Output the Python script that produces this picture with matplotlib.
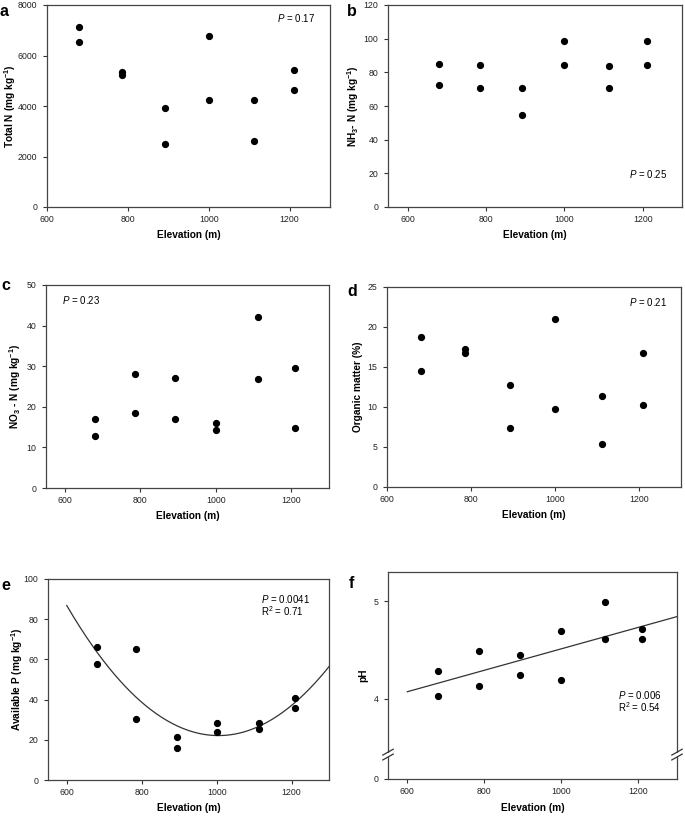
import matplotlib
matplotlib.use("Agg")
import matplotlib.pyplot as plt
import numpy as np

plt.rcParams['font.family'] = ['Liberation Sans', 'DejaVu Sans']
plt.rcParams['mathtext.fontset'] = 'custom'
plt.rcParams['mathtext.rm'] = 'Liberation Sans'
plt.rcParams['mathtext.it'] = 'Liberation Sans:italic'
plt.rcParams['mathtext.bf'] = 'Liberation Sans:bold'

# elevation of each sampling site (two samples per site)
elev = [680, 680, 785, 785, 893, 893, 1000, 1000, 1113, 1113, 1210, 1210]

total_n = [7140, 6520, 5340, 5220, 3940, 2480, 6770, 4240, 4230, 2600, 5440, 4620]
nh3_n = [85.2, 72.5, 84.6, 70.8, 70.6, 54.7, 98.4, 84.6, 84.0, 70.4, 98.4, 84.4]
no3_n = [17.0, 12.9, 28.1, 18.5, 27.2, 17.0, 16.1, 14.2, 42.0, 26.9, 29.5, 14.9]
org_matter = [18.8, 14.5, 17.3, 16.8, 12.75, 7.4, 21.0, 9.8, 11.4, 5.4, 16.8, 10.2]
avail_p = [66.4, 57.5, 65.2, 30.3, 21.4, 16.1, 28.3, 23.7, 28.6, 25.2, 40.6, 35.8]
ph = [4.29, 4.03, 4.49, 4.13, 4.45, 4.25, 4.70, 4.19, 4.99, 4.61, 4.72, 4.61]

fig = plt.figure(figsize=(6.85, 8.16), dpi=100)
W, H = 685.0, 816.0


def make_ax(left, right, top, bottom):
    return fig.add_axes([left / W, 1 - bottom / H, (right - left) / W, (bottom - top) / H])


def style(ax, xlim, ylabel, ylab_x):
    ax.set_xlim(*xlim)
    ax.set_xticks([600, 800, 1000, 1200])
    ax.tick_params(direction='out', length=3, width=0.8, labelsize=6.3, colors='#333333',
                   labelcolor='#222222')
    ax.tick_params(axis='y', pad=4)
    ax.tick_params(axis='x', pad=3)
    for s in ax.spines.values():
        s.set_linewidth(0.9)
        s.set_color('#444444')
    ax.set_xlabel('Elevation (m)', fontsize=7.3, fontweight='bold', va='center')
    ax.set_ylabel(ylabel, fontsize=7.3, fontweight='bold', va='center')
    ax.xaxis.set_label_coords(0.5, -0.14)
    ax.yaxis.set_label_coords(ylab_x, 0.5)


def dots(ax, y):
    ax.plot(elev, y, 'o', color='black', markersize=4.2, clip_on=False)


def letter(x, y, s):
    fig.text(x / W, 1 - y / H, s, fontsize=11.5, fontweight='bold', ha='left', va='center')


def note(ax, x, y, s, ha='left'):
    ax.text(x, y, s, transform=ax.transAxes, ha=ha, va='center', fontsize=7)


# a
ax = make_ax(47, 330, 5, 207)
dots(ax, total_n)
ax.set_ylim(0, 8000)
ax.set_yticks([0, 2000, 4000, 6000, 8000])
style(ax, (600, 1300), r'Total N (mg kg$^{\mathbf{-1}}$)', -0.13)
note(ax, 0.948, 0.935, r'$\it{P}$ = 0.17', 'right')
letter(0, 11, 'a')

# b
ax = make_ax(388, 682, 5, 207)
dots(ax, nh3_n)
ax.set_ylim(0, 120)
ax.set_yticks([0, 20, 40, 60, 80, 100, 120])
style(ax, (550, 1300), r'NH$_{\mathbf{3}}$- N (mg kg$^{\mathbf{-1}}$)', -0.119)
note(ax, 0.949, 0.163, r'$\it{P}$ = 0.25', 'right')
letter(347, 11, 'b')

# c
ax = make_ax(46, 329, 285, 488)
dots(ax, no3_n)
ax.set_ylim(0, 50)
ax.set_yticks([0, 10, 20, 30, 40, 50])
style(ax, (550, 1300), r'NO$_{\mathbf{3}}$ - N (mg kg$^{\mathbf{-1}}$)', -0.11)
note(ax, 0.057, 0.926, r'$\it{P}$ = 0.23')
letter(1, 285, 'c')

# d
ax = make_ax(387, 681, 287, 487)
dots(ax, org_matter)
ax.set_ylim(0, 25)
ax.set_yticks([0, 5, 10, 15, 20, 25])
style(ax, (600, 1300), 'Organic matter (%)', -0.099)
note(ax, 0.952, 0.925, r'$\it{P}$ = 0.21', 'right')
letter(347, 291, 'd')

# e  (quadratic fit)
ax = make_ax(48, 329, 579, 780)
coef = np.polyfit(elev, avail_p, 2)
xf = np.linspace(600, 1300, 200)
ax.plot(xf, np.polyval(coef, xf), color='#333333', lw=0.9)
dots(ax, avail_p)
ax.set_ylim(0, 100)
ax.set_yticks([0, 20, 40, 60, 80, 100])
style(ax, (550, 1300), r'Available P (mg kg$^{\mathbf{-1}}$)', -0.11)
note(ax, 0.758, 0.90, r'$\it{P}$ = 0.0041')
note(ax, 0.758, 0.84, r'R$^2$ = 0.71')
letter(1, 586, 'e')

# f  (linear fit, broken y axis)
ax = make_ax(388, 677, 572, 779)
y0 = 3.18      # where the "0" tick sits on the broken axis
ybrk = 3.43
lin = np.polyfit(elev, ph, 1)
xf = np.linspace(600, 1300, 50)
ax.plot(xf, np.polyval(lin, xf), color='#333333', lw=0.9)
dots(ax, ph)
ax.set_ylim(y0, 5.3)
ax.set_yticks([y0, 4, 5])
ax.set_yticklabels(['0', '4', '5'])
style(ax, (550, 1300), 'pH', -0.087)
for xa in (0, 1):
    ax.plot([xa - 0.004, xa + 0.004], [ybrk, ybrk], transform=ax.get_yaxis_transform(),
            color='white', lw=3, clip_on=False, zorder=3)
    for dy in (-0.025, 0.025):
        ax.plot([xa - 0.018, xa + 0.018], [ybrk + dy - 0.03, ybrk + dy + 0.03],
                transform=ax.get_yaxis_transform(), color='#333333', lw=0.9,
                clip_on=False, zorder=4)
note(ax, 0.796, 0.406, r'$\it{P}$ = 0.006')
note(ax, 0.796, 0.348, r'R$^2$ = 0.54')
letter(349, 584, 'f')

fig.savefig('out.png', dpi=100)
